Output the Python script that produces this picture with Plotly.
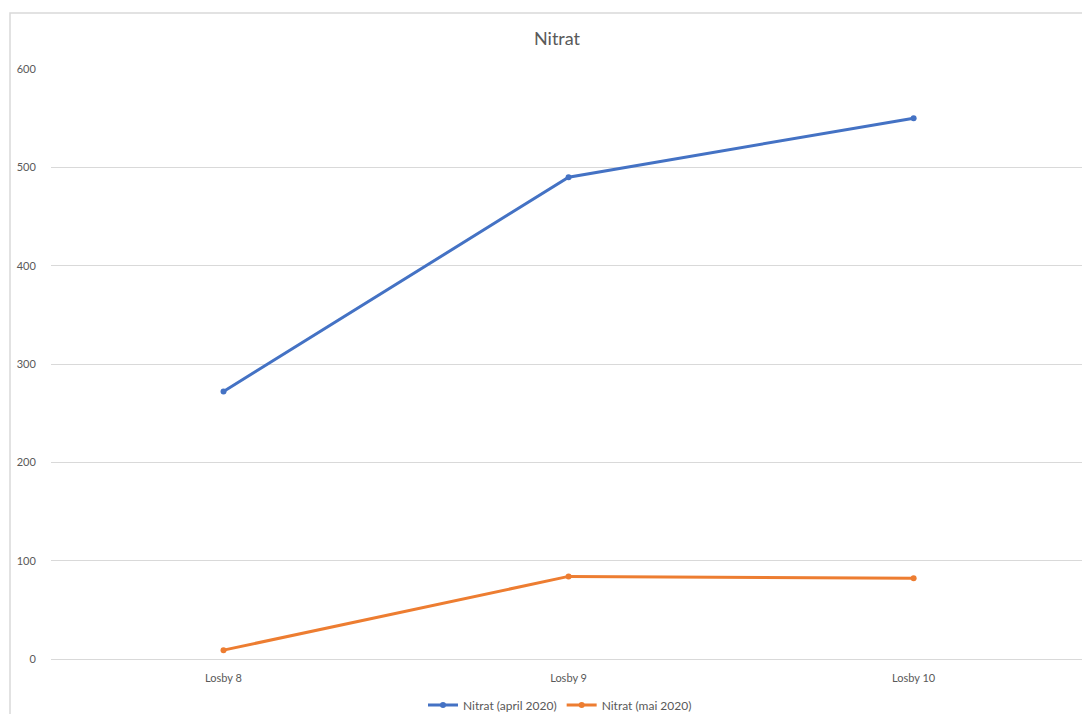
import plotly.graph_objects as go

categories = ["Losby 8", "Losby 9", "Losby 10"]
april_2020 = [272, 490, 550]
mai_2020 = [9, 84, 82]
series_names = ["Nitrat (april 2020)", "Nitrat (mai 2020)"]
y_ticks = [0, 100, 200, 300, 400, 500, 600]

W, H = 1082, 714
L, R, T, B = 51, 0, 69, 55
pw, ph = W - L - R, H - T - B

fig = go.Figure()
fig.add_trace(go.Scatter(x=categories, y=april_2020, name=series_names[0], mode="lines+markers",
                         line=dict(color="#4472C4", width=3), marker=dict(size=6, color="#4472C4")))
fig.add_trace(go.Scatter(x=categories, y=mai_2020, name=series_names[1], mode="lines+markers",
                         line=dict(color="#ED7D31", width=3), marker=dict(size=6, color="#ED7D31")))

def px_x(p):
    return (p - L) / pw

def px_y(p):
    return (H - B - p) / ph

fig.add_shape(type="rect", xref="paper", yref="paper",
              x0=px_x(10), x1=px_x(1100), y0=px_y(740), y1=px_y(13),
              line=dict(color="#d9d9d9", width=1.5), fillcolor="rgba(0,0,0,0)", layer="below")

fig.update_layout(
    width=W, height=H,
    margin=dict(l=L, r=R, t=T, b=B, autoexpand=False),
    paper_bgcolor="white", plot_bgcolor="white",
    font=dict(family="Lato, Open Sans, sans-serif", color="#595959", size=11),
    title=dict(text="Nitrat", x=557 / W, xref="container", xanchor="center",
               y=1 - 39 / H, yref="container", yanchor="middle",
               font=dict(size=18, color="#595959")),
    showlegend=True,
    legend=dict(orientation="h", x=560 / W, xref="container", xanchor="center",
                y=1 - 705 / H, yref="container", yanchor="middle",
                font=dict(size=12, color="#595959")),
    xaxis=dict(range=[-0.5, 2.488], showgrid=False, showline=False, zeroline=False, automargin=False,
               ticks="outside", ticklen=9, tickcolor="rgba(0,0,0,0)", tickfont=dict(size=11)),
    yaxis=dict(range=[0, 600], tickvals=y_ticks, showgrid=True, gridcolor="#d9d9d9", gridwidth=1,
               zeroline=True, zerolinecolor="#d9d9d9", zerolinewidth=1, showline=False, automargin=False,
               ticks="outside", ticklen=12, tickcolor="rgba(0,0,0,0)", tickfont=dict(size=11)),
)

fig.write_html("out.html")
